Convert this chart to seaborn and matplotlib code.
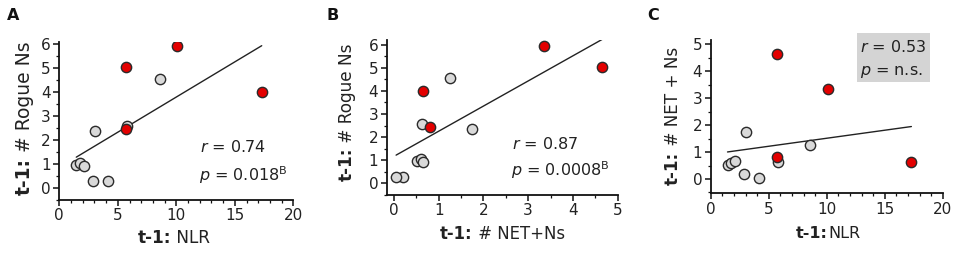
"""
Rogue neutrophils vs NLR / NET+Ns scatter panels
"""

import numpy as np
import pandas as pd
import matplotlib
matplotlib.use("Agg")
import matplotlib.pyplot as plt
from matplotlib.ticker import MultipleLocator
import seaborn as sns

# per-subject values
nlr = [5.7, 10.1, 17.3, 5.7, 8.6, 5.8, 3.05, 2.85, 4.2, 1.45, 1.75, 2.1]
rogue = [5.05, 5.93, 4.0, 2.45, 4.56, 2.58, 2.36, 0.28, 0.28, 0.98, 1.05, 0.92]
net = [4.65, 3.35, 0.65, 0.8, 1.25, 0.62, 1.75, 0.2, 0.05, 0.52, 0.6, 0.66]
group = ["red"] * 4 + ["gray"] * 8

stats_a = ["0.74", "0.018"]
stats_b = ["0.87", "0.0008"]
stats_c = ["0.53", "n.s."]

df = pd.DataFrame({"nlr": nlr, "rogue": rogue, "net": net, "group": group})

sns.set_theme(style="ticks")
plt.rcParams["font.family"] = ["DejaVu Sans"]
plt.rcParams["mathtext.fontset"] = "dejavusans"

W, H = 957, 256
fig = plt.figure(figsize=(W / 100, H / 100), dpi=100)

colors = {"gray": "#d9d9d9", "red": "#e30000"}


def px_axes(left, right, top, bottom):
    return fig.add_axes([left / W, 1 - bottom / H, (right - left) / W, (bottom - top) / H])


def panel(ax, xcol, ycol, xlim, ylim, xmaj, xmin, ymaj, ymin):
    sns.regplot(data=df, x=xcol, y=ycol, scatter=False, ci=None, ax=ax,
                line_kws={"color": "#222222", "lw": 1.0, "zorder": 1})
    for g in ["gray", "red"]:
        sub = df[df["group"] == g]
        sns.scatterplot(data=sub, x=xcol, y=ycol, ax=ax, color=colors[g],
                        s=55, edgecolor="#2a2a2a", linewidth=1.0, zorder=3, legend=False)
    ax.set_xlim(*xlim)
    ax.set_ylim(*ylim)
    ax.xaxis.set_major_locator(MultipleLocator(xmaj))
    ax.xaxis.set_minor_locator(MultipleLocator(xmin))
    ax.yaxis.set_major_locator(MultipleLocator(ymaj))
    ax.yaxis.set_minor_locator(MultipleLocator(ymin))
    ax.set_xlabel("")
    ax.set_ylabel("")
    ax.patch.set_alpha(0)
    for s in ["top", "right"]:
        ax.spines[s].set_visible(False)
    for s in ["left", "bottom"]:
        ax.spines[s].set_linewidth(1.3)
        ax.spines[s].set_color("#111111")
    ax.tick_params(which="major", length=4, width=1.1, labelsize=11, pad=2,
                   color="#111111", labelcolor="#222222")
    ax.tick_params(which="minor", length=2.2, width=0.9, color="#111111")


ax_a = px_axes(59.3, 293.3, 41.7, 200)
panel(ax_a, "nlr", "rogue", (0, 20), (-0.5, 6.1), 5, 1, 1, 0.5)
ax_b = px_axes(386.7, 617.7, 40, 195)
panel(ax_b, "net", "rogue", (-0.16, 5), (-0.5, 6.2), 1, 0.5, 1, 0.5)
ax_c = px_axes(710.7, 942.7, 40, 193.3)
panel(ax_c, "nlr", "net", (0, 20), (-0.53, 5.16), 5, 1, 1, 0.5)

renderer = fig.canvas.get_renderer()


def bold_label(cx, cy, bold, rest, size, vertical=False):
    rot = 90 if vertical else 0
    t1 = fig.text(0, 0, bold, fontsize=size, fontweight="bold", rotation=rot,
                  ha="center", va="center", color="#222222")
    t2 = fig.text(0, 0, rest, fontsize=size, rotation=rot,
                  ha="center", va="center", color="#222222")
    e1 = t1.get_window_extent(renderer)
    e2 = t2.get_window_extent(renderer)
    fy = H - cy
    if vertical:
        total = e1.height + e2.height
        y0 = fy - total / 2
        t1.set_position((cx / W, (y0 + e1.height / 2) / H))
        t2.set_position((cx / W, (y0 + e1.height + e2.height / 2) / H))
    else:
        total = e1.width + e2.width
        x0 = cx - total / 2
        t1.set_position(((x0 + e1.width / 2) / W, fy / H))
        t2.set_position(((x0 + e1.width + e2.width / 2) / W, fy / H))


bold_label(24, 118, "t-1:", " # Rogue Ns", 13.5, vertical=True)
bold_label(173.5, 238, "t-1:", " NLR", 12.2)
bold_label(347, 112, "t-1:", " # Rogue Ns", 12.2, vertical=True)
bold_label(502.5, 234, "t-1:", " # NET+Ns", 11.9)
bold_label(673, 116, "t-1:", " # NET + Ns", 12.1, vertical=True)
bold_label(828, 234, "t-1:", "NLR", 11.5)

# statistics text
txt = dict(fontsize=11.5, color="#222222", ha="left", va="center", zorder=5)
fig.text(200 / W, 1 - 147 / H, r"$r$ = " + stats_a[0], **txt)
fig.text(199 / W, 1 - 175 / H, r"$p$ = " + stats_a[1] + r"$^{\rm B}$", **txt)
fig.text(512 / W, 1 - 144 / H, r"$r$ = " + stats_b[0], **txt)
fig.text(511 / W, 1 - 170 / H, r"$p$ = " + stats_b[1] + r"$^{\rm B}$", **txt)
fig.text(860 / W, 1 - 47 / H, r"$r$ = " + stats_c[0], **txt)
fig.text(860 / W, 1 - 71.5 / H, r"$p$ = " + stats_c[1], **txt)
fig.patches.append(plt.Rectangle((856.5 / W, 1 - 81.7 / H), 73.5 / W, 48.7 / H,
                                 transform=fig.transFigure, facecolor="#d4d4d4",
                                 edgecolor="none", zorder=0.5))

for lab, x in zip(["A", "B", "C"], [7, 327, 647]):
    fig.text(x / W, 1 - 15 / H, lab, fontsize=11.5, fontweight="bold",
             ha="left", va="center", color="#111111")

fig.savefig("out.png", dpi=100)
